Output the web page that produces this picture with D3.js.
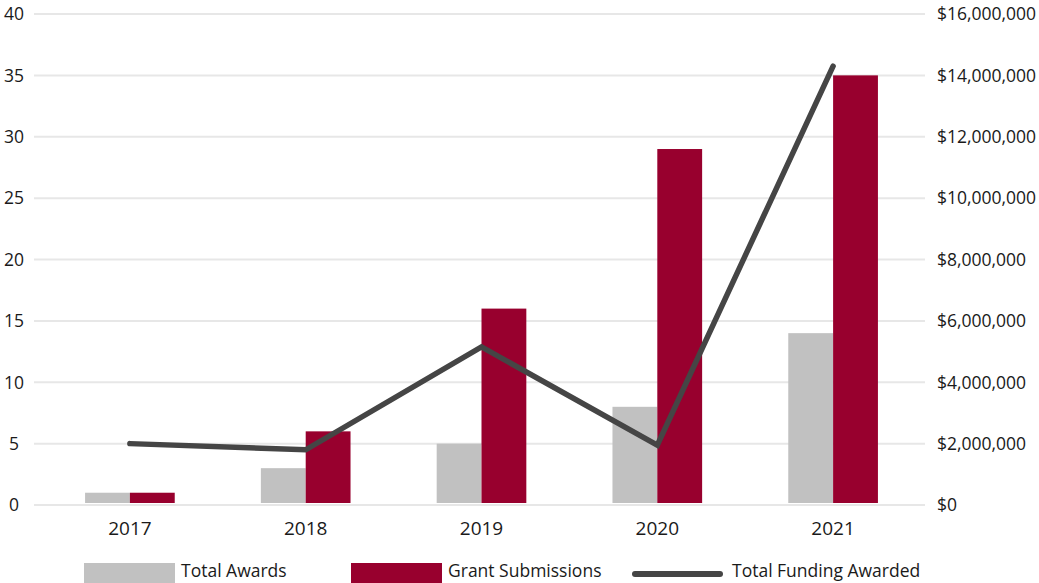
<!DOCTYPE html>
<html><head><meta charset="utf-8">
<script src="https://cdn.jsdelivr.net/npm/d3@7"></script>
<style>body{margin:0;background:#fff}svg{display:block;font-family:"Open Sans",sans-serif}</style>
</head><body><svg id="c" width="1039" height="583"></svg>
<script>
const years = ["2017","2018","2019","2020","2021"];
const totalAwards = [1, 3, 5, 8, 14];
const grantSubmissions = [1, 6, 16, 29, 35];
const totalFunding = [2000000, 1800000, 5150000, 1950000, 14300000];
const leftTicks = [0,5,10,15,20,25,30,35,40];
const rightTicks = [0,2e6,4e6,6e6,8e6,10e6,12e6,14e6,16e6];
const seriesNames = ["Total Awards","Grant Submissions","Total Funding Awarded"];

const colors = {awards:"#c1c1c1", subs:"#98002e", line:"#454545", grid:"#e7e7e7", text:"#1a1a1a"};
const svg = d3.select("#c");
const x = d3.scaleBand().domain(years).range([42,921]).paddingInner(0.49).paddingOuter(0.245);
const x1 = d3.scaleBand().domain(["a","s"]).range([0,x.bandwidth()]);
const yL = d3.scaleLinear().domain([0,40]).range([505,14]);
const yR = d3.scaleLinear().domain([0,16e6]).range([505,14]);

// gridlines
svg.append("g").selectAll("line").data(leftTicks).join("line")
  .attr("x1",34).attr("x2",925).attr("y1",d=>yL(d)).attr("y2",d=>yL(d))
  .attr("stroke",colors.grid).attr("stroke-width",2);

// left axis labels
svg.append("g").selectAll("text").data(leftTicks).join("text")
  .attr("x",14).attr("y",d=>yL(d)).attr("dy","0.36em").attr("text-anchor","middle")
  .attr("font-size",17.5).attr("fill",colors.text).text(d=>d);
// right axis labels
const fmt = d=>"$"+d3.format(",")(d);
svg.append("g").selectAll("text").data(rightTicks).join("text")
  .attr("x",937).attr("y",d=>yR(d)).attr("dy","0.36em").attr("text-anchor","start")
  .attr("font-size",17.5).attr("fill",colors.text).text(fmt);

// bars
const g = svg.append("g");
years.forEach((yr,i)=>{
  g.append("rect").attr("x",x(yr)+x1("a")).attr("width",x1.bandwidth())
    .attr("y",yL(totalAwards[i])).attr("height",yL(0)-2-yL(totalAwards[i])).attr("fill",colors.awards);
  g.append("rect").attr("x",x(yr)+x1("s")).attr("width",x1.bandwidth())
    .attr("y",yL(grantSubmissions[i])).attr("height",yL(0)-2-yL(grantSubmissions[i])).attr("fill",colors.subs);
});

// line
const line = d3.line().x((d,i)=>x(years[i])+x.bandwidth()/2).y(d=>yR(d));
svg.append("path").datum(totalFunding).attr("d",line).attr("fill","none")
  .attr("stroke",colors.line).attr("stroke-width",5.5).attr("stroke-linecap","round").attr("stroke-linejoin","miter");

// x labels
svg.append("g").selectAll("text").data(years).join("text")
  .attr("x",d=>x(d)+x.bandwidth()/2).attr("y",535).attr("text-anchor","middle")
  .attr("font-size",19).attr("fill",colors.text).text(d=>d);

// legend
const leg = svg.append("g");
leg.append("rect").attr("x",84).attr("y",563).attr("width",91).attr("height",20).attr("fill",colors.awards);
leg.append("text").attr("x",181).attr("y",577).attr("font-size",17.5).attr("fill",colors.text).text(seriesNames[0]);
leg.append("rect").attr("x",351).attr("y",563).attr("width",91).attr("height",20).attr("fill",colors.subs);
leg.append("text").attr("x",448).attr("y",577).attr("font-size",17.5).attr("fill",colors.text).text(seriesNames[1]);
leg.append("line").attr("x1",635).attr("x2",720).attr("y1",574).attr("y2",574)
  .attr("stroke",colors.line).attr("stroke-width",6).attr("stroke-linecap","round");
leg.append("text").attr("x",732).attr("y",577).attr("font-size",17.5).attr("fill",colors.text).text(seriesNames[2]);
</script></body></html>
